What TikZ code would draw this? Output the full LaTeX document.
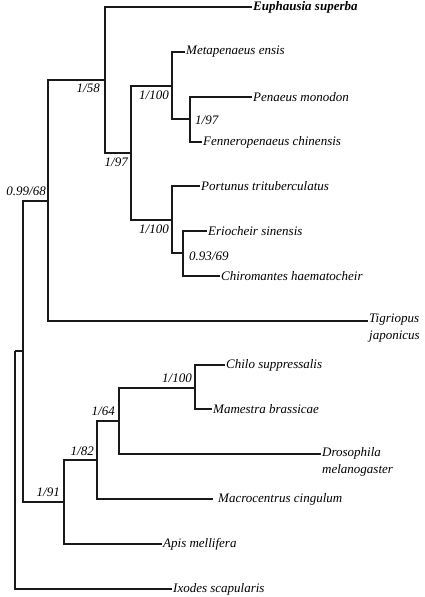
\documentclass[tikz,border=0pt]{standalone}
\usepackage{fontspec}
\setmainfont{Liberation Serif}
\begin{document}
\begin{tikzpicture}[x=1pt, y=-1pt,
  branch/.style={black!90, line width=1.9pt},
  leaf/.style={font=\fontsize{13}{17}\selectfont\itshape, anchor=west, inner sep=1pt},
  twoline/.style={font=\fontsize{13}{17}\selectfont\itshape, anchor=north west, align=left, inner sep=1pt, yshift=8pt},
  support/.style={font=\fontsize{13}{17}\selectfont\itshape, inner sep=1pt}]
  \useasboundingbox (0,0) rectangle (425,597);
  \coordinate (root) at (15,351);
  \coordinate (n23) at (23,351);
  \coordinate (n48) at (48,201);
  \coordinate (n105) at (105,80);
  \coordinate (n131) at (131,153);
  \coordinate (n172a) at (172,86);
  \coordinate (n190) at (190,119);
  \coordinate (n172b) at (172,220);
  \coordinate (n183) at (183,253);
  \coordinate (n64) at (64,502);
  \coordinate (n97) at (97,460);
  \coordinate (n119) at (119,421);
  \coordinate (n195) at (195,388);
  \coordinate (euphausia) at (252,7);
  \coordinate (metapenaeus) at (185,52);
  \coordinate (penaeus) at (252,97);
  \coordinate (fenneropenaeus) at (202,142);
  \coordinate (portunus) at (200,186);
  \coordinate (eriocheir) at (207,231);
  \coordinate (chiromantes) at (220,276);
  \coordinate (tigriopus) at (368,321);
  \coordinate (chilo) at (225,365);
  \coordinate (mamestra) at (212,409);
  \coordinate (drosophila) at (321,454);
  \coordinate (macrocentrus) at (213,499);
  \coordinate (apis) at (162,544);
  \coordinate (ixodes) at (172,589);
  \draw[branch] (root) |- (n23);
  \draw[branch] (root) |- (ixodes);
  \draw[branch] (n23) |- (n48);
  \draw[branch] (n23) |- (n64);
  \draw[branch] (n48) |- (n105);
  \draw[branch] (n48) |- (tigriopus);
  \draw[branch] (n105) |- (euphausia);
  \draw[branch] (n105) |- (n131);
  \draw[branch] (n131) |- (n172a);
  \draw[branch] (n131) |- (n172b);
  \draw[branch] (n172a) |- (metapenaeus);
  \draw[branch] (n172a) |- (n190);
  \draw[branch] (n190) |- (penaeus);
  \draw[branch] (n190) |- (fenneropenaeus);
  \draw[branch] (n172b) |- (portunus);
  \draw[branch] (n172b) |- (n183);
  \draw[branch] (n183) |- (eriocheir);
  \draw[branch] (n183) |- (chiromantes);
  \draw[branch] (n64) |- (n97);
  \draw[branch] (n64) |- (apis);
  \draw[branch] (n97) |- (n119);
  \draw[branch] (n97) |- (macrocentrus);
  \draw[branch] (n119) |- (n195);
  \draw[branch] (n119) |- (drosophila);
  \draw[branch] (n195) |- (chilo);
  \draw[branch] (n195) |- (mamestra);
  \node[leaf] (euphausiatext) at (euphausia) {\bfseries Euphausia superba};
  \node[leaf] (metapenaeustext) at (metapenaeus) {Metapenaeus ensis};
  \node[leaf] (penaeustext) at (penaeus) {Penaeus monodon};
  \node[leaf] (fenneropenaeustext) at (fenneropenaeus) {Fenneropenaeus chinensis};
  \node[leaf] (portunustext) at (portunus) {Portunus trituberculatus};
  \node[leaf] (eriocheirtext) at (eriocheir) {Eriocheir sinensis};
  \node[leaf] (chiromantestext) at (chiromantes) {Chiromantes haematocheir};
  \node[twoline] (tigriopustext) at (tigriopus) {Tigriopus\\ japonicus};
  \node[leaf] (chilotext) at (chilo) {Chilo suppressalis};
  \node[leaf] (mamestratext) at (mamestra) {Mamestra brassicae};
  \node[twoline] (drosophilatext) at (drosophila) {Drosophila\\melanogaster};
  \node[leaf, xshift=4pt] (macrocentrustext) at (macrocentrus) {Macrocentrus cingulum};
  \node[leaf] (apistext) at (apis) {Apis mellifera};
  \node[leaf] (ixodestext) at (ixodes) {Ixodes scapularis};
  \node[support, anchor=south east] (s48) at (47,197) {0.99/68};
  \node[support, anchor=north east] (s105) at (101,83) {1/58};
  \node[support, anchor=north east] (s131) at (129,157) {1/97};
  \node[support, anchor=north east] (s172a) at (170,90) {1/100};
  \node[support, anchor=west] (s190) at (194,120) {1/97};
  \node[support, anchor=north east] (s172b) at (170,224) {1/100};
  \node[support, anchor=west] (s183) at (188,256) {0.93/69};
  \node[support, anchor=south east] (s64) at (61,498) {1/91};
  \node[support, anchor=south east] (s97) at (95,457) {1/82};
  \node[support, anchor=south east] (s119) at (116,417) {1/64};
  \node[support, anchor=south east] (s195) at (193,384) {1/100};
\end{tikzpicture}
\end{document}
